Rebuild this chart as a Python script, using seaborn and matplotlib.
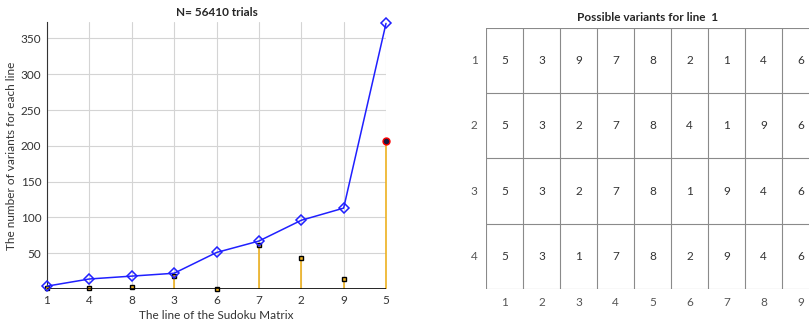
import numpy as np
import pandas as pd
import matplotlib
matplotlib.use("Agg")
import matplotlib.pyplot as plt
import seaborn as sns
from matplotlib.colors import ListedColormap

sns.set_style("white")
plt.rcParams['font.family'] = ['Lato', 'DejaVu Sans']

# ---- data ----
line_order = [1, 4, 8, 3, 6, 7, 2, 9, 5]
variants = [4, 14, 18, 22, 51, 67, 96, 113, 371]
stem_vals = [2, 2, 3, 18, 0, 62, 43, 14, 207]
title_left = "N= 56410 trials"
xlabel_left = "The line of the Sudoku Matrix"
ylabel_left = "The number of variants for each line"

table_title = "Possible variants for line  1"
table_rows = [
    [5, 3, 9, 7, 8, 2, 1, 4, 6],
    [5, 3, 2, 7, 8, 4, 1, 9, 6],
    [5, 3, 2, 7, 8, 1, 9, 4, 6],
    [5, 3, 1, 7, 8, 2, 9, 4, 6],
]
row_labels = [1, 2, 3, 4]
col_labels = [1, 2, 3, 4, 5, 6, 7, 8, 9]

fig = plt.figure(figsize=(8.09, 3.23), dpi=100)
W, H = 809, 323

# ---- left plot ----
ax = fig.add_axes([47 / W, 1 - 289 / H, (386 - 47) / W, (289 - 22) / H])
pos = np.arange(len(line_order))
df = pd.DataFrame({"pos": pos, "variants": variants})
ax.vlines(pos, 0, stem_vals, color="#EDB120", lw=1.2, zorder=2, clip_on=False)
ax.plot(pos[:-1], stem_vals[:-1], ls="none", marker="s", ms=3.5,
        mfc="#EDB120", mec="black", mew=1.0, zorder=3, clip_on=False)
ax.plot(pos[-1:], stem_vals[-1:], ls="none", marker="o", ms=5,
        mfc="#1a1a40", mec="red", mew=1.0, zorder=3, clip_on=False)
sns.lineplot(data=df, x="pos", y="variants", ax=ax, color="#2020ff", lw=1.1,
             marker="D", ms=5, mfc="none", mec="#2020ff", mew=1.1, zorder=4,
             clip_on=False)
ax.axhline(0, color="black", lw=1.2, zorder=3)
ax.set_xlim(0, len(line_order) - 1)
ax.set_ylim(0, 373)
ax.set_xticks(pos)
ax.set_xticklabels([str(v) for v in line_order])
ax.set_yticks([50, 100, 150, 200, 250, 300, 350])
ax.grid(True, color="#d4d4d4", lw=0.8)
ax.set_axisbelow(True)
for s in ["top", "right"]:
    ax.spines[s].set_visible(False)
ax.spines["bottom"].set_visible(False)
ax.spines["left"].set_color("#333333")
ax.spines["left"].set_linewidth(0.8)
ax.tick_params(labelsize=8.5, colors="#333333", length=0, pad=4)
ax.set_xlabel(xlabel_left, fontsize=8.5, color="#333333", labelpad=3)
ax.set_ylabel(ylabel_left, fontsize=8.5, color="#333333", labelpad=3)
ax.set_title(title_left, fontsize=8.5, fontweight="bold", pad=4)

# ---- right table ----
ax2 = fig.add_axes([486 / W, 1 - 289 / H, 9 * 37 / W, (289 - 27.7) / H])
tab = pd.DataFrame(table_rows, index=row_labels, columns=col_labels)
sns.heatmap(tab, ax=ax2, cmap=ListedColormap(["white"]), cbar=False,
            annot=True, fmt="d", annot_kws={"fontsize": 8.5, "color": "#333333"},
            linewidths=0)
for i in range(len(table_rows) + 1):
    ax2.axhline(i, color="#8a8a8a", lw=0.8, zorder=5)
for j in range(len(col_labels) + 1):
    ax2.axvline(j, color="#8a8a8a", lw=0.8, zorder=5)
for s in ax2.spines.values():
    s.set_visible(False)
ax2.tick_params(labelsize=8.5, colors="#555555", length=0, pad=6)
ax2.set_yticklabels([str(r) for r in row_labels], rotation=0)
ax2.set_xticklabels([str(c) for c in col_labels], rotation=0)
ax2.set_xlabel("")
ax2.set_ylabel("")
ax2.set_title(table_title, fontsize=8.5, fontweight="bold", pad=5,
              x=(809 - 486) / 2 / 333)

fig.savefig("out.png", dpi=100)
